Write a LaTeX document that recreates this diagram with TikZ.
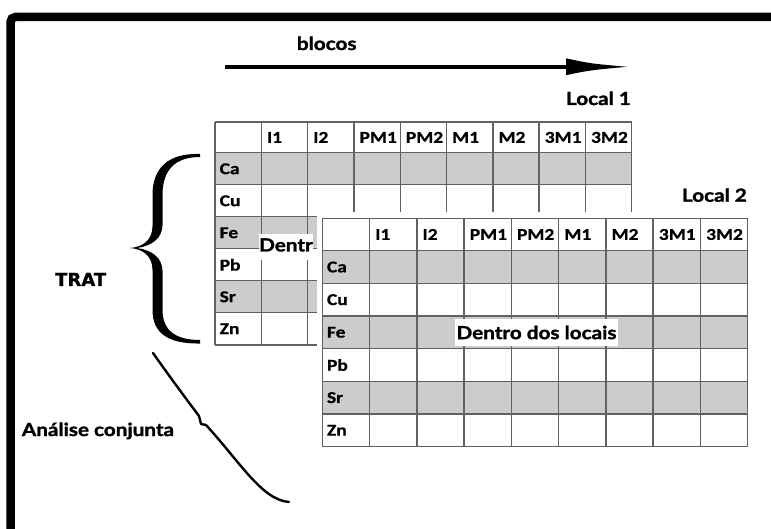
\documentclass[tikz,border=0pt]{standalone}
\usepackage{fontspec}
\newfontfamily\latof[FakeStretch=1.15, FakeBold=1.6]{Lato}
\newfontfamily\cellf[FakeStretch=1.18, FakeBold=0.8]{Carlito}
\newfontfamily\dvsf[FakeBold=1.2]{DejaVu Sans}
\tikzset{
  lbl/.style={font=\latof\bfseries\fontsize{18}{21}\selectfont, inner sep=0pt},
  celltxt/.style={anchor=west, inner sep=2pt, font=\cellf\bfseries\fontsize{16.5}{18}\selectfont},
  tabline/.style={draw=black!62, line width=1.4pt},
  shadecell/.style={fill=black!20},
  whitebox/.style={fill=white, inner ysep=0pt, minimum height=26pt}
}
% #1 prefix, #2 x0, #3 y0, #4 column width, #5 header height, #6 row height
\newcommand{\drawtab}[6]{%
  \foreach \rr in {0,2,4}
    \fill[shadecell] ({#2},{#3+#5+\rr*#6}) rectangle ({#2+9*#4},{#3+#5+(\rr+1)*#6});
  \foreach \cc in {0,...,9}
    \draw[tabline] ({#2+\cc*#4},{#3}) -- ({#2+\cc*#4},{#3+#5+6*#6});
  \draw[tabline] ({#2},{#3}) -- ({#2+9*#4},{#3});
  \foreach \rr in {0,...,6}
    \draw[tabline] ({#2},{#3+#5+\rr*#6}) -- ({#2+9*#4},{#3+#5+\rr*#6});
  \foreach \hh [count=\ii] in {I1,I2,PM1,PM2,M1,M2,3M1,3M2}
    \node[celltxt] (#1h\ii) at ({#2+\ii*#4+3.5},{#3+#5/2}) {\hh};
  \foreach \hh [count=\ii from 0] in {Ca,Cu,Fe,Pb,Sr,Zn}
    \node[celltxt] (#1r\ii) at ({#2+2.5},{#3+#5+(\ii+0.5)*#6}) {\hh};
}
\begin{document}
\begin{tikzpicture}[x=1pt,y=-1pt]
\useasboundingbox (0,0) rectangle (771,529);
\clip (0,0) rectangle (771,529);
\fill[white] (0,0) rectangle (771,529);
% frame (top and left)
\draw[line width=8.5pt, rounded corners=5pt] (10.5,540) -- (10.5,17) -- (790,17);

% top arrow
\coordinate (arrS) at (225,67);
\coordinate (arrE) at (572,67);
\draw[line width=3.5pt] (arrS) -- (arrE);
\fill (566,58.3) .. controls (590,63.5) .. (627,66.8) .. controls (590,70.2) .. (566,75.2) -- cycle;
\node[lbl, anchor=base] (blocos) at (326.7,50) {blocos};

% table 1
\node[lbl, anchor=base east] (local1) at (631,105) {Local 1};
\drawtab{ta}{215}{122}{46.3}{30.8}{32}
\node[whitebox, anchor=north west, inner xsep=8pt, lbl] (dentro1) at (259,234) {\strut Dentr};

% table 2
\fill[white] (317,212) rectangle (756,452);
\node[lbl, anchor=base east] (local2) at (747,201.7) {Local 2};
\drawtab{tb}{322.3}{218.3}{47.27}{32.4}{32.65}
\node[whitebox, lbl, inner xsep=2pt, minimum height=27pt] (dentro2) at (536.5,332.5) {Dentro dos locais};

% big brace
\fill (200,154) .. controls (168,153) and (152.5,168) .. (152.5,195) -- (152.5,226)
  .. controls (152.5,240) and (143,247) .. (130,248)
  .. controls (143,249) and (152.5,256) .. (152.5,270) -- (152.5,310)
  .. controls (152.5,333) and (168,344) .. (200,343.5)
  -- (200,340) .. controls (175,340) and (162.5,330) .. (162.5,310) -- (162.5,271)
  .. controls (162.5,258) and (152,250) .. (137,248)
  .. controls (152,246) and (162.5,238) .. (162.5,225) -- (162.5,195)
  .. controls (162.5,170) and (175,157) .. (200,157) -- cycle;
\node[font=\dvsf\bfseries\fontsize{18}{21}\selectfont, inner sep=0pt, anchor=base west] (trat) at (55,286) {TRAT};

% thin brace
\draw[line width=2.4pt, line cap=round, line join=round]
  (153,353) .. controls (172,380) and (190,404) .. (199,416) -- (201,424) -- (206,425)
  .. controls (240,462) and (262,500) .. (289,502);
\node[lbl, anchor=base west] (analise) at (21.7,436) {Análise conjunta};
\end{tikzpicture}
\end{document}
